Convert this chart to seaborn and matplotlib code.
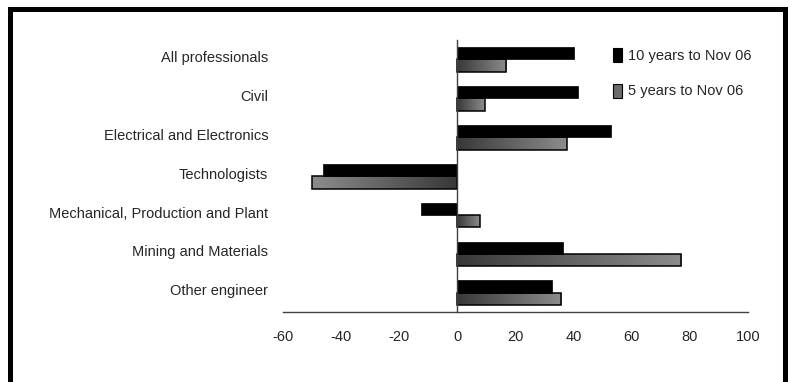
import numpy as np
import pandas as pd
import matplotlib
matplotlib.use("Agg")
import matplotlib.pyplot as plt
import matplotlib.transforms as mtransforms
from matplotlib.patches import Patch, Rectangle
from matplotlib.colors import LinearSegmentedColormap
import seaborn as sns

categories = [
    "All professionals",
    "Civil",
    "Electrical and Electronics",
    "Technologists",
    "Mechanical, Production and Plant",
    "Mining and Materials",
    "Other engineer",
]
series_names = ["10 years to Nov 06", "5 years to Nov 06"]
ten_years = [40.4, 41.6, 52.9, -46.0, -12.4, 36.4, 32.5]
five_years = [16.9, 9.5, 37.8, -49.8, 7.8, 77.2, 35.9]
x_ticks = [-60, -40, -20, 0, 20, 40, 60, 80, 100]

df = pd.DataFrame({
    "category": categories * 2,
    "series": [series_names[0]] * len(categories) + [series_names[1]] * len(categories),
    "change": ten_years + five_years,
})

sns.set_style("white")
plt.rcParams["font.family"] = ["Liberation Sans", "DejaVu Sans"]
FS = 10.5

fig = plt.figure(figsize=(7.92, 3.82), dpi=100)
ax = fig.add_axes([282.7 / 792, 1 - 312.3 / 382, 465 / 792, 272.3 / 382])

sns.barplot(
    data=df, x="change", y="category", hue="series", orient="h",
    order=categories, hue_order=series_names,
    palette={series_names[0]: "black", series_names[1]: "#6a6a6a"},
    width=0.64, gap=0, ax=ax, legend=False, saturation=1,
)

# gradient fill for the second series: dark at zero, lighter toward the bar end
grad_cmap = LinearSegmentedColormap.from_list("g", ["#383838", "#8c8c8c"])
for bar in ax.containers[1]:
    x0, y0 = bar.get_x(), bar.get_y()
    w, h = bar.get_width(), bar.get_height()
    bar.set_facecolor("none")
    bar.set_edgecolor("black")
    bar.set_linewidth(1.1)
    grad = np.linspace(0, 1, 256).reshape(1, -1)
    if w < 0:
        grad = grad[:, ::-1]
    left, right = min(x0, x0 + w), max(x0, x0 + w)
    im = ax.imshow(grad, cmap=grad_cmap, aspect="auto",
                   extent=(left, right, y0 + h, y0), zorder=bar.get_zorder() - 0.1,
                   interpolation="bilinear")
    im.set_clip_path(bar)
for bar in ax.containers[0]:
    bar.set_edgecolor("black")
    bar.set_linewidth(0.5)

ax.set_xlim(-60, 100)
ax.set_ylim(len(categories) - 0.5, -0.5)
ax.set_xticks(x_ticks)
ax.set_xticklabels([str(t) for t in x_ticks], fontsize=FS)

# category axis sits on the zero line; labels pushed out to the left edge
for s in ["top", "right"]:
    ax.spines[s].set_visible(False)
ax.spines["left"].set_position(("data", 0))
for s in ["left", "bottom"]:
    ax.spines[s].set_color("#404040")
    ax.spines[s].set_linewidth(1.0)
ax.set_yticks(range(len(categories)))
ax.set_yticklabels(categories, fontsize=FS)
ax.set_yticks(np.arange(-0.5, len(categories), 1.0), minor=True)
ax.tick_params(axis="y", which="major", length=0, pad=136)
ax.tick_params(axis="y", which="minor", length=4, width=1, color="#404040", direction="out")
ax.tick_params(axis="x", which="major", length=4, width=1, color="#404040",
               direction="in", pad=13)
lift = mtransforms.ScaledTranslation(0, 3 / 100, fig.dpi_scale_trans)
for lab in ax.get_yticklabels():
    lab.set_transform(lab.get_transform() + lift)
ax.set_xlabel("")
ax.set_ylabel("")
ax.set_facecolor("white")

handles = [
    Patch(facecolor="black", edgecolor="black", linewidth=0.8),
    Patch(facecolor="#6a6a6a", edgecolor="black", linewidth=0.8),
]
ax.legend(handles, series_names, loc="upper left", bbox_to_anchor=(0.6985, 0.991),
          frameon=False, fontsize=FS, handlelength=0.6, handleheight=1.1,
          handletextpad=0.42, labelspacing=1.39, borderaxespad=0)

# outer chart frame
fig.add_artist(Rectangle((9.5 / 792, -0.2), 775 / 792, 1.2 - 9.5 / 382,
                         transform=fig.transFigure, fill=False,
                         edgecolor="black", linewidth=3.6))

fig.savefig("out.png", dpi=100, facecolor="white")
